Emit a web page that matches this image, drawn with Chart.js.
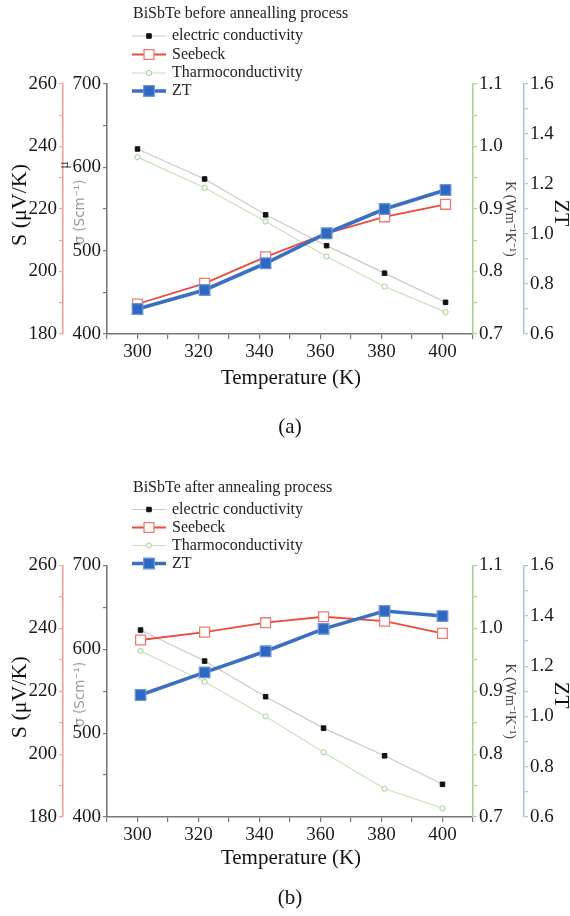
<!DOCTYPE html>
<html><head><meta charset="utf-8">
<script src="https://cdn.jsdelivr.net/npm/chart.js@4.4.1/dist/chart.umd.min.js"></script>
<style>html,body{margin:0;padding:0;background:#fff;} canvas{display:block;}</style>
</head><body>
<canvas id="cA" width="570" height="458"></canvas>
<canvas id="cB" width="570" height="458"></canvas>
<script>
// ---------- data ----------
const seriesNames = ['electric conductivity', 'Seebeck', 'Tharmoconductivity', 'ZT'];
const tempsBefore = [300, 322, 342, 362, 381, 401];
const sigmaBefore = [622, 586, 543, 506, 473, 438];
const seebeckBefore = [189.6, 196.2, 204.7, 212.2, 217.5, 221.5];
const kappaBefore = [0.983, 0.934, 0.880, 0.824, 0.776, 0.735];
const ztBefore = [0.70, 0.776, 0.883, 1.003, 1.10, 1.176];

const tempsAfter = [301, 322, 342, 361, 381, 400];
const sigmaAfter = [623, 586, 543.5, 506, 473, 439];
const seebeckAfter = [236.3, 238.8, 241.8, 243.7, 242.3, 238.4];
const kappaAfter = [0.964, 0.915, 0.860, 0.803, 0.745, 0.714];
const ztAfter = [1.085, 1.175, 1.259, 1.348, 1.419, 1.399];

const xLabelStep = 20;
const titleBefore = 'BiSbTe before annealling process';
const titleAfter = 'BiSbTe after annealing process';

// ---------- helpers ----------
const SERIF = '"Liberation Serif", "Times New Roman", serif';
const pts = (xs, ys) => xs.map((x, i) => ({x: x, y: ys[i]}));

function makeDatasets(t, sig, s, k, zt) {
  return [
    {label: seriesNames[0], data: pts(t, sig), yAxisID: 'ySig', order: 2,
     borderColor: '#c9c9c9', borderWidth: 1.2, pointStyle: 'rect', pointRadius: 3.2,
     pointBackgroundColor: '#111', pointBorderColor: '#111', pointBorderWidth: 1},
    {label: seriesNames[1], data: pts(t, s), yAxisID: 'yS', order: 1,
     borderColor: '#ec4a3c', borderWidth: 1.8, pointStyle: 'rect', pointRadius: 7,
     pointBackgroundColor: '#fff', pointBorderColor: '#f07a70', pointBorderWidth: 1.3},
    {label: seriesNames[2], data: pts(t, k), yAxisID: 'yK', order: 3,
     borderColor: '#c5e2b8', borderWidth: 1.1, pointStyle: 'circle', pointRadius: 2.6,
     pointBackgroundColor: '#fff', pointBorderColor: '#9fcf8a', pointBorderWidth: 1},
    {label: seriesNames[3], data: pts(t, zt), yAxisID: 'yZT', order: 0,
     borderColor: '#3a6fc4', borderWidth: 3.6, pointStyle: 'rect', pointRadius: 7.5,
     pointBackgroundColor: '#2f68c0', pointBorderColor: '#6a95d8', pointBorderWidth: 1.2}
  ];
}

function yAxis(pos, weight, min, max, step, major, digits, color, width) {
  return {
    type: 'linear', position: pos, weight: weight, min: min, max: max,
    afterFit: s => { s.width = width; },
    ticks: {stepSize: step, autoSkip: false, padding: 2, color: '#1a1a1a',
      font: {family: SERIF, size: 19},
      callback: v => (Math.abs(Math.round(v / major) * major - v) < 1e-6 ? v.toFixed(digits) : '')},
    grid: {drawOnChartArea: false, drawTicks: true, tickLength: 4, color: color, lineWidth: 1.2},
    border: {color: color, width: 1.6}
  };
}

function makeScales() {
  return {
    x: {type: 'linear', position: 'bottom', min: 290, max: 410,
      afterFit: s => { s.height = 30; },
      ticks: {stepSize: 10, autoSkip: false, maxRotation: 0, padding: 2, color: '#1a1a1a',
        font: {family: SERIF, size: 19},
        callback: v => (v % xLabelStep === 0 ? String(v) : '')},
      grid: {drawOnChartArea: false, drawTicks: true, tickLength: 5, color: '#777', lineWidth: 1.2},
      border: {color: '#777', width: 1.6}},
    yS: yAxis('left', 2, 180, 260, 10, 20, 0, '#f3a19a', 63),
    ySig: yAxis('left', 1, 400, 700, 50, 100, 0, '#7a7a7a', 44),
    yK: yAxis('right', 1, 0.7, 1.1, 0.05, 0.1, 1, '#a8d48e', 51),
    yZT: yAxis('right', 2, 0.6, 1.6, 0.1, 0.2, 1, '#a9c4ea', 46)
  };
}

function drawMarker(ctx, ds, x, y) {
  const r = ds.pointRadius;
  ctx.lineWidth = ds.pointBorderWidth;
  ctx.fillStyle = ds.pointBackgroundColor;
  ctx.strokeStyle = ds.pointBorderColor;
  ctx.beginPath();
  if (ds.pointStyle === 'rect') {
    const h = r * Math.SQRT1_2;
    ctx.rect(x - h, y - h, 2 * h, 2 * h);
  } else {
    ctx.arc(x, y, r, 0, Math.PI * 2);
  }
  ctx.fill(); ctx.stroke();
}

function rotText(ctx, text, x, y, angle, font, color) {
  ctx.save();
  ctx.translate(x, y); ctx.rotate(angle);
  ctx.font = font; ctx.fillStyle = color;
  ctx.textAlign = 'center'; ctx.textBaseline = 'middle';
  ctx.fillText(text, 0, 0);
  ctx.restore();
}

const decor = {
  id: 'decor',
  afterDraw(chart, args, o) {
    const ctx = chart.ctx, ca = chart.chartArea;
    const cy = (ca.top + ca.bottom) / 2;
    ctx.save();
    ctx.font = '16px ' + SERIF; ctx.fillStyle = '#222';
    ctx.textAlign = 'left'; ctx.textBaseline = 'middle';
    ctx.fillText(o.title, o.legX + 1, o.titleY);
    chart.data.datasets.forEach((ds, i) => {
      const y = o.rowY[i];
      ctx.strokeStyle = ds.borderColor; ctx.lineWidth = ds.borderWidth;
      ctx.beginPath(); ctx.moveTo(o.legX, y); ctx.lineTo(o.legX + 34, y); ctx.stroke();
      drawMarker(ctx, ds, o.legX + 17, y);
      ctx.font = '16px ' + SERIF; ctx.fillStyle = '#222';
      ctx.textAlign = 'left'; ctx.textBaseline = 'middle';
      ctx.fillText(ds.label, o.legX + 40, y);
    });
    rotText(ctx, 'S (\u03bcV/K)', 20, cy + o.sOff, -Math.PI / 2, '22px ' + SERIF, '#111');
    rotText(ctx, '\u03c3 (Scm\u207b\u00b9)', 80, cy + 3, -Math.PI / 2, '13.5px "DejaVu Sans", sans-serif', '#999');
    if (o.mu) rotText(ctx, '\u03bc', 64, ca.top + 81, -Math.PI / 2, '14px ' + SERIF, '#333');
    rotText(ctx, 'K (Wm\u207b\u00b9K\u207b\u00b9)', 510, cy + 10, Math.PI / 2, '14px ' + SERIF, '#444');
    rotText(ctx, 'ZT', 561, cy + 4, Math.PI / 2, '22px ' + SERIF, '#111');
    ctx.font = '21px ' + SERIF; ctx.fillStyle = '#111';
    ctx.textAlign = 'center'; ctx.textBaseline = 'middle';
    ctx.fillText('Temperature (K)', 291, ca.bottom + o.xTitleOff);
    ctx.fillText(o.caption, 290, ca.bottom + o.captionOff);
    ctx.restore();
  }
};

function makeChart(id, dsets, padTop, padBottom, opts) {
  return new Chart(document.getElementById(id), {
    type: 'line',
    data: {datasets: dsets},
    plugins: [decor],
    options: {
      responsive: false, animation: false, devicePixelRatio: 1,
      layout: {padding: {top: padTop, bottom: padBottom, left: 0, right: 0}},
      elements: {line: {tension: 0}},
      plugins: {legend: {display: false}, tooltip: {enabled: false}, decor: opts},
      scales: makeScales()
    }
  });
}

makeChart('cA', makeDatasets(tempsBefore, sigmaBefore, seebeckBefore, kappaBefore, ztBefore), 84, 94,
  {title: titleBefore, caption: '(a)', legX: 132, titleY: 14, rowY: [36, 54.5, 73, 91], xTitleOff: 44, captionOff: 93, sOff: -4, mu: true});
makeChart('cB', makeDatasets(tempsAfter, sigmaAfter, seebeckAfter, kappaAfter, ztAfter), 107.5, 69,
  {title: titleAfter, caption: '(b)', legX: 132, titleY: 29.5, rowY: [51.5, 69.5, 87.5, 105.5], xTitleOff: 41, captionOff: 81, sOff: 6, mu: false});
</script>
</body></html>
